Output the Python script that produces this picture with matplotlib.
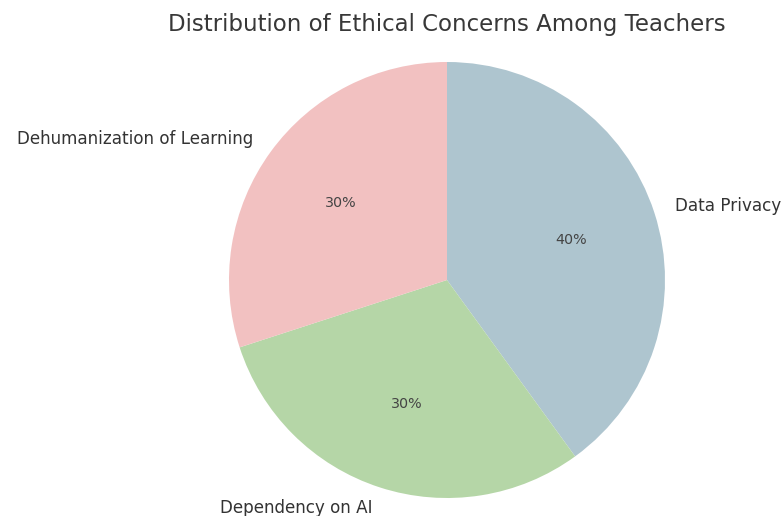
import matplotlib
matplotlib.use("Agg")
import matplotlib.pyplot as plt

labels = ["Data Privacy", "Dependency on AI", "Dehumanization of Learning"]
shares = [40, 30, 30]
colors = ["#aec5cf", "#b5d6a7", "#f2c1c1"]

fig = plt.figure(figsize=(7.83, 5.16), dpi=100)
ax = fig.add_axes([229 / 783, 18 / 516, 436 / 783, 436 / 516])

wedges, texts, autotexts = ax.pie(
    shares,
    labels=labels,
    colors=colors,
    autopct="%1.0f%%",
    startangle=90,
    counterclock=False,
    labeldistance=1.1,
    pctdistance=0.6,
    textprops={"color": "#333333", "fontsize": 12.1},
)
for t in autotexts:
    t.set_fontsize(10.3)
    t.set_color("#444444")

ax.set_xlim(-1, 1)
ax.set_ylim(-1, 1)
ax.set_aspect("equal")
ax.axis("off")

fig.text(447 / 783, 1 - 25 / 516, "Distribution of Ethical Concerns Among Teachers",
         ha="center", va="center", fontsize=16.5, color="#383838")

fig.savefig("out.png", dpi=100)
